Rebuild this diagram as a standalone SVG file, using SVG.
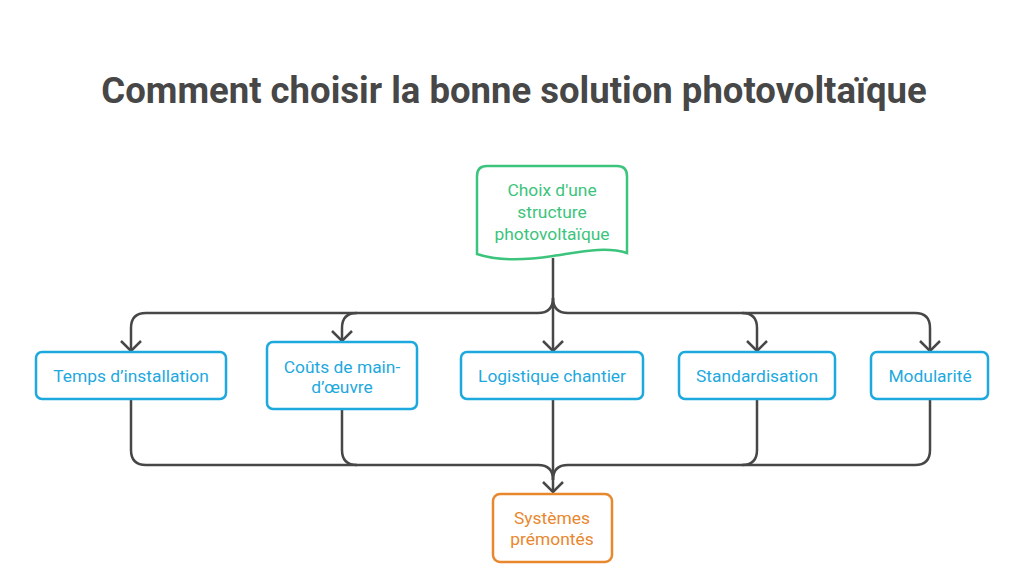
<svg xmlns="http://www.w3.org/2000/svg" width="1024" height="573" viewBox="0 0 1024 573">
<defs>
<style>
.t{font-family:Roboto,"Liberation Sans",sans-serif;text-anchor:middle}
.title{font-size:36.5px;font-weight:bold;fill:#474747}
.lbl{font-size:17.4px}
.blue{fill:#fff;stroke:#1ea9de;stroke-width:2.5}
.bt{fill:#1ea9de}
.c{fill:none;stroke:#474747;stroke-width:2.5}
</style>
<marker id="ah" viewBox="0 0 24 24" refX="20" refY="12" markerWidth="24" markerHeight="24" markerUnits="userSpaceOnUse" orient="auto">
<polyline points="10,2 20,12 10,22" fill="none" stroke="#474747" stroke-width="2.5"/>
</marker>
</defs>
<rect width="1024" height="573" fill="#fff"/>
<text class="t title" x="514" y="103">Comment choisir la bonne solution photovoltaïque</text>
<g id="connectors">
<path class="c" d="M553,258 V351" marker-end="url(#ah)"/>
<path class="c" d="M553,298 Q553,313 538,313 H146 Q131,313 131,328 V351" marker-end="url(#ah)"/>
<path class="c" d="M357,313 Q342,313 342,328 V341" marker-end="url(#ah)"/>
<path class="c" d="M553,298 Q553,313 568,313 H915 Q930,313 930,328 V351" marker-end="url(#ah)"/>
<path class="c" d="M742,313 Q757,313 757,328 V351" marker-end="url(#ah)"/>
<path class="c" d="M553,400 V492" marker-end="url(#ah)"/>
<path class="c" d="M131,400 V450 Q131,465 146,465 H538 Q553,465 553,480"/>
<path class="c" d="M342,409 V450 Q342,465 357,465"/>
<path class="c" d="M930,400 V450 Q930,465 915,465 H568 Q553,465 553,480"/>
<path class="c" d="M757,400 V450 Q757,465 742,465"/>
</g>
<g id="n-choix">
<path d="M487,166 H617 Q627,166 627,176 V253 C605,246 580,252 553,256 C527,260 500,262 477,254 V176 Q477,166 487,166 Z" fill="#fff" stroke="#3cc47c" stroke-width="2.5"/>
<text class="t lbl" fill="#3cc47c" x="552" y="196">Choix d'une</text>
<text class="t lbl" fill="#3cc47c" x="552" y="218">structure</text>
<text class="t lbl" fill="#3cc47c" x="552" y="240">photovoltaïque</text>
</g>
<g id="n-temps">
<rect class="blue" x="36" y="352" width="190" height="47" rx="6"/>
<text class="t lbl bt" x="131" y="382">Temps d’installation</text>
</g>
<g id="n-couts">
<rect class="blue" x="267" y="342" width="150" height="67" rx="6"/>
<text class="t lbl bt" x="342" y="373">Coûts de main-</text>
<text class="t lbl bt" x="342" y="393">d’œuvre</text>
</g>
<g id="n-logistique">
<rect class="blue" x="461" y="352" width="182" height="47" rx="6"/>
<text class="t lbl bt" x="552" y="382">Logistique chantier</text>
</g>
<g id="n-standard">
<rect class="blue" x="679" y="352" width="156" height="47" rx="6"/>
<text class="t lbl bt" x="757" y="382">Standardisation</text>
</g>
<g id="n-modul">
<rect class="blue" x="871" y="352" width="117" height="47" rx="6"/>
<text class="t lbl bt" x="930" y="382">Modularité</text>
</g>
<g id="n-systemes">
<rect x="493" y="494" width="119" height="68" rx="7" fill="#fff" stroke="#e8872e" stroke-width="2.5"/>
<text class="t lbl" fill="#e8872e" x="552" y="524">Systèmes</text>
<text class="t lbl" fill="#e8872e" x="552" y="545">prémontés</text>
</g>
</svg>
